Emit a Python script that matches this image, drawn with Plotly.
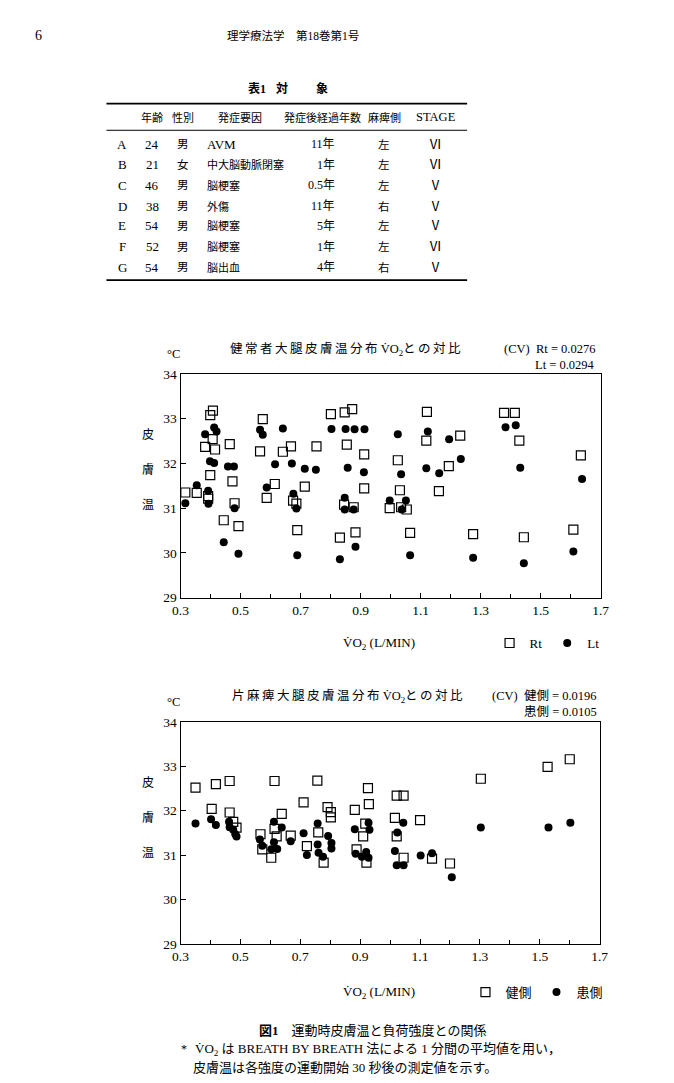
import plotly.graph_objects as go

W, H = 674, 1083
FONT = "'Liberation Serif', 'Noto Sans CJK JP', serif"

# ---------------- table data ----------------
subjects = ["A", "B", "C", "D", "E", "F", "G"]
ages = [24, 21, 46, 38, 54, 52, 54]
sexes = ["男", "女", "男", "男", "男", "男", "男"]
causes = ["AVM", "中大脳動脈閉塞", "脳梗塞", "外傷", "脳梗塞", "脳梗塞", "脳出血"]
years = ["11年", "1年", "0.5年", "11年", "5年", "1年", "4年"]
sides = ["左", "左", "左", "右", "左", "左", "右"]
stages = ["Ⅵ", "Ⅵ", "Ⅴ", "Ⅴ", "Ⅴ", "Ⅵ", "Ⅴ"]
headers = ["年齢", "性別", "発症要因", "発症後経過年数", "麻痺側", "STAGE"]

# ---------------- chart 1 data (healthy subjects) ----------------
rt_vo2 = [0.316, 0.354, 0.392, 0.392, 0.399, 0.408, 0.407, 0.382, 0.415, 0.399,
          0.464, 0.473, 0.480, 0.444, 0.493, 0.574, 0.565, 0.587, 0.614, 0.641,
          0.668, 0.675, 0.686, 0.714, 0.689, 0.753, 0.801, 0.847, 0.872, 0.854,
          0.845, 0.877, 0.831, 0.883, 0.912, 0.912, 0.997, 1.024, 1.031, 1.035,
          1.054, 1.065, 1.121, 1.119, 1.194, 1.161, 1.232, 1.275, 1.378, 1.414,
          1.429, 1.444, 1.609, 1.634]
rt_temp = [31.35, 31.34, 31.27, 31.21, 33.08, 33.18, 32.54, 32.37, 32.31, 31.74,
           32.43, 31.60, 31.11, 30.73, 30.60, 32.99, 32.27, 31.23, 31.54, 32.26,
           32.38, 31.17, 31.10, 31.48, 30.51, 32.38, 33.10, 33.14, 33.21, 32.42,
           31.08, 31.02, 30.34, 30.46, 32.20, 31.44, 31.00, 32.07, 31.40, 31.02,
           30.97, 30.45, 33.15, 32.51, 31.94, 31.38, 32.62, 30.42, 33.13, 33.13,
           32.51, 30.35, 30.52, 32.18]

lt_vo2 = [0.316, 0.354, 0.392, 0.393, 0.382, 0.412, 0.420, 0.398, 0.412, 0.458,
          0.478, 0.480, 0.444, 0.493, 0.565, 0.574, 0.587, 0.615, 0.641, 0.671,
          0.676, 0.686, 0.689, 0.714, 0.751, 0.803, 0.850, 0.880, 0.913, 0.857,
          0.847, 0.847, 0.877, 0.911, 0.883, 0.831, 0.997, 1.024, 1.035, 1.037,
          1.051, 1.065, 1.124, 1.119, 1.195, 1.162, 1.234, 1.275, 1.383, 1.417,
          1.432, 1.444, 1.609, 1.638]
lt_temp = [31.11, 31.51, 31.39, 31.10, 32.65, 32.80, 32.71, 32.05, 32.01, 31.93,
           31.93, 31.00, 30.24, 29.98, 32.75, 32.64, 31.46, 31.98, 32.78, 32.00,
           31.32, 30.99, 29.95, 31.88, 31.86, 32.77, 32.77, 32.76, 32.76, 31.90,
           31.23, 30.97, 30.97, 31.80, 30.14, 29.86, 31.17, 32.65, 31.76, 30.97,
           31.17, 29.95, 32.71, 31.89, 32.54, 31.78, 32.10, 29.89, 32.81, 32.85,
           31.90, 29.77, 30.03, 31.65]

# ---------------- chart 2 data (hemiplegic subjects) ----------------
ken_vo2 = [0.350, 0.404, 0.418, 0.464, 0.464, 0.476, 0.487, 0.567, 0.573, 0.603,
           0.614, 0.614, 0.621, 0.638, 0.668, 0.711, 0.722, 0.757, 0.760, 0.778,
           0.791, 0.802, 0.802, 0.882, 0.888, 0.910, 0.917, 0.926, 0.929, 0.921,
           1.016, 1.022, 1.045, 1.022, 1.045, 1.100, 1.140, 1.200, 1.303, 1.526,
           1.600]
ken_temp = [32.52, 32.04, 32.60, 32.67, 31.96, 31.75, 31.62, 31.47, 31.13, 30.94,
            32.67, 31.59, 31.42, 31.93, 31.44, 32.19, 31.20, 32.68, 31.51, 30.83,
            32.08, 31.97, 31.85, 32.02, 31.13, 31.42, 31.71, 32.51, 32.15, 30.83,
            31.84, 32.34, 32.34, 31.42, 30.94, 31.79, 30.92, 30.81, 32.72, 32.99,
            33.16]

kan_vo2 = [0.350, 0.402, 0.418, 0.462, 0.464, 0.476, 0.483, 0.487, 0.565, 0.573,
           0.603, 0.612, 0.612, 0.623, 0.638, 0.668, 0.711, 0.722, 0.758, 0.758,
           0.761, 0.776, 0.793, 0.804, 0.804, 0.882, 0.885, 0.906, 0.920, 0.928,
           0.931, 0.928, 1.016, 1.024, 1.044, 1.022, 1.045, 1.102, 1.140, 1.206,
           1.303, 1.529, 1.602]
kan_temp = [31.71, 31.81, 31.68, 31.75, 31.63, 31.57, 31.47, 31.42, 31.35, 31.21,
            31.13, 31.75, 31.29, 31.14, 31.62, 31.31, 31.49, 31.00, 31.71, 31.24,
            31.05, 30.96, 31.43, 31.27, 31.15, 31.58, 31.03, 30.96, 31.07, 31.73,
            31.57, 30.94, 31.09, 31.51, 31.73, 30.77, 30.77, 30.99, 31.04, 30.50,
            31.62, 31.62, 31.73]

x_ticks = [0.3, 0.5, 0.7, 0.9, 1.1, 1.3, 1.5, 1.7]
y_ticks = [29, 30, 31, 32, 33, 34]


def px(x):
    return x / W


def py(y):
    return 1 - y / H


def spaced(s):
    return "\u2009".join(s)


fig = go.Figure()

sq = dict(symbol="square-open", size=9, color="black", line=dict(width=1.2, color="black"))
dot = dict(symbol="circle", size=8, color="black", line=dict(width=0))

fig.add_trace(go.Scatter(x=rt_vo2, y=rt_temp, mode="markers", name="Rt",
                         marker=sq, xaxis="x", yaxis="y", legend="legend"))
fig.add_trace(go.Scatter(x=lt_vo2, y=lt_temp, mode="markers", name="Lt",
                         marker=dot, xaxis="x", yaxis="y", legend="legend"))
fig.add_trace(go.Scatter(x=ken_vo2, y=ken_temp, mode="markers", name="健側",
                         marker=sq, xaxis="x2", yaxis="y2", legend="legend2"))
fig.add_trace(go.Scatter(x=kan_vo2, y=kan_temp, mode="markers", name="患側",
                         marker=dot, xaxis="x2", yaxis="y2", legend="legend2"))

axis_common = dict(showline=True, linecolor="black", linewidth=1.3, mirror=True,
                   showgrid=False, zeroline=False, ticks="inside", ticklen=5,
                   tickcolor="black", tickwidth=1,
                   tickfont=dict(family=FONT, size=13.5, color="black"))

xa = dict(axis_common, range=[0.3, 1.7], tickmode="array", tickvals=x_ticks,
          ticktext=[f"{v:.1f}" for v in x_ticks],
          minor=dict(ticks="inside", tick0=0.3, dtick=0.1, ticklen=4,
                     tickcolor="black", showgrid=False))
ya = dict(axis_common, range=[29, 34], tickmode="array", tickvals=y_ticks,
          ticktext=[str(v) for v in y_ticks])

legend_common = dict(orientation="h", xanchor="right", yanchor="middle",
                     font=dict(family=FONT, size=13), itemwidth=30,
                     bgcolor="rgba(0,0,0,0)", tracegroupgap=0)

fig.update_layout(
    width=W, height=H,
    margin=dict(l=0, r=0, t=0, b=0),
    paper_bgcolor="white", plot_bgcolor="white",
    font=dict(family=FONT, size=13, color="black"),
    xaxis=dict(xa, domain=[px(177), px(608)], anchor="y"),
    yaxis=dict(ya, domain=[py(599), py(372)], anchor="x"),
    xaxis2=dict(xa, domain=[px(177), px(607)], anchor="y2"),
    yaxis2=dict(ya, domain=[py(950), py(725)], anchor="x2"),
    legend=dict(legend_common, x=px(612), y=py(645)),
    legend2=dict(legend_common, x=px(616), y=py(999)),
    showlegend=True,
)

ann = []


def text(x, y, s, size=13, xanchor="center", bold=False):
    if bold:
        s = "<b>" + s + "</b>"
    ann.append(dict(x=px(x), y=py(y), xref="paper", yref="paper", text=s,
                    showarrow=False, xanchor=xanchor, yanchor="middle",
                    font=dict(family=FONT, size=size, color="black")))


# page header
text(26, 29, "6", size=14, xanchor="left")
text(223, 29, "理学療法学　第18巻第1号", size=11.5, xanchor="left")

# table
text(244, 83, "表1", size=12, xanchor="left", bold=True)
text(281, 83, "対", size=12, bold=True)
text(322, 83, "象", size=12, bold=True)
hx = [148, 180, 238, 323, 386, 439]
for hxi, h in zip(hx, headers):
    text(hxi, 112, h, size=11 if h != "STAGE" else 12.5)
row_y = [139, 160, 181, 202, 222, 243, 264]
for i, ry in enumerate(row_y):
    text(117, ry, subjects[i], size=13)
    text(148, ry, str(ages[i]), size=13)
    text(180, ry, sexes[i], size=11.5)
    text(202, ry, causes[i], size=13 if causes[i].isascii() else 11, xanchor="left")
    text(338, ry, years[i], size=12, xanchor="right")
    text(386, ry, sides[i], size=11.5)
    text(439, ry, stages[i], size=13)

shapes = []
for yy, wdt in [(98, 1.6), (125, 1.0), (277, 1.6)]:
    shapes.append(dict(type="line", xref="paper", yref="paper",
                       x0=px(101), x1=px(471), y0=py(yy), y1=py(yy),
                       line=dict(color="black", width=wdt)))

# chart titles and CV notes
vo2 = "V̇O<sub>2</sub>"
text(226, 347, spaced("健常者大腿皮膚温分布") + " " + vo2 + spaced("との対比"), size=12.5, xanchor="left")
text(604, 347, "(CV)  Rt = 0.0276", size=12.5, xanchor="right")
text(604, 363, "Lt = 0.0294", size=12.5, xanchor="right")

text(228, 699, spaced("片麻痺大腿皮膚温分布") + " " + vo2 + spaced("との対比"), size=12.5, xanchor="left")
text(606, 699, "(CV)  健側 = 0.0196", size=12.5, xanchor="right")
text(606, 715, "患側 = 0.0105", size=12.5, xanchor="right")

# y-axis unit and labels
for top, labs in [(352, [434, 469, 505]), (705, [787, 822, 858])]:
    text(170, top, "°C", size=12.5)
    for ly, ch in zip(labs, ["皮", "膚", "温"]):
        text(144, ly, ch, size=12)

# x-axis titles
text(381, 645, vo2 + " (L/MIN)", size=13)
text(381, 999, vo2 + " (L/MIN)", size=13)

# caption
text(255, 1038, "<b>図1</b>　運動時皮膚温と負荷強度との関係", size=13, xanchor="left")
text(175, 1057, "*", size=12, xanchor="left")
text(190, 1057, vo2 + " は BREATH BY BREATH 法による 1 分間の平均値を用い，", size=13, xanchor="left")
text(188, 1075, "皮膚温は各強度の運動開始 30 秒後の測定値を示す。", size=13, xanchor="left")

fig.update_layout(annotations=ann, shapes=shapes)
fig.write_html("out.html")
